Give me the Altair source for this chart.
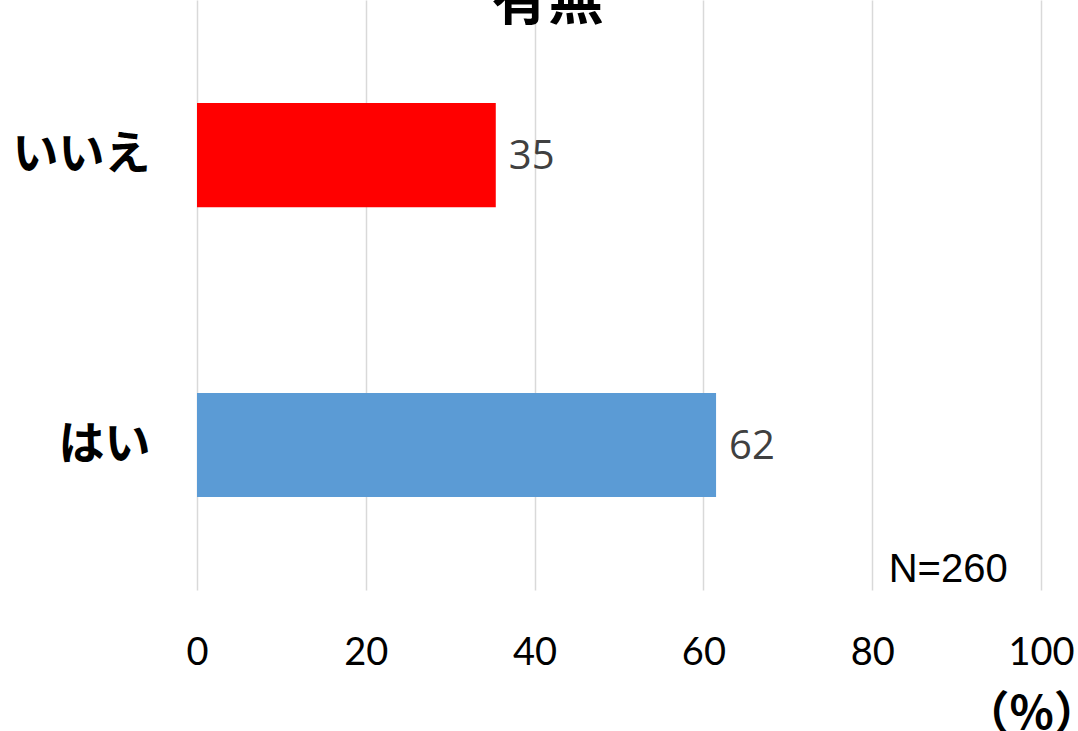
import altair as alt
import pandas as pd

categories = ["いいえ", "はい"]
values = [35.4, 61.5]
labels = ["35", "62"]
colors = ["#FF0000", "#5B9BD5"]
x_ticks = [0, 20, 40, 60, 80, 100]

df = pd.DataFrame({"cat": categories, "val": values, "lab": labels, "col": colors})

y_enc = alt.Y("cat:N", sort=categories, title=None,
              scale=alt.Scale(paddingInner=0.641, paddingOuter=0.338, align=0.526),
              axis=alt.Axis(labelFont="Noto Sans CJK JP", labelFontWeight="bold",
                            labelFontSize=46, labelColor="#000000", labelPadding=47,
                            domain=False, ticks=False, grid=False))
x_enc = alt.X("val:Q", title=None,
              scale=alt.Scale(domain=[0, 100], nice=False),
              axis=alt.Axis(values=x_ticks, labelFont="Lato", labelFontSize=38,
                            labelColor="#000000", labelPadding=44, labelFlush=False,
                            domain=False, ticks=False, grid=True,
                            gridColor="#d9d9d9", gridWidth=1.5))

bars = alt.Chart(df).mark_bar().encode(
    x=x_enc, y=y_enc, color=alt.Color("col:N", scale=None))

text = alt.Chart(df).mark_text(align="left", dx=13, dy=2, font="Open Sans", fontSize=40,
                               color="#404040").encode(
    x="val:Q", y=alt.Y("cat:N", sort=categories), text="lab:N")

notes = pd.DataFrame({"t": ["N=260"], "val": [89.0]})
n_text = alt.Chart(notes).mark_text(font="Liberation Sans", fontSize=40, color="#000000",
                                    baseline="bottom").encode(
    x="val:Q", y=alt.value(590), text="t:N")

pct = alt.Chart(pd.DataFrame({"t": ["（%）"], "val": [98.9]})).mark_text(
    font="Noto Sans CJK JP", fontSize=46, fontWeight="bold", color="#000000",
    baseline="middle").encode(x="val:Q", y=alt.value(715), text="t:N")

title = alt.Chart(pd.DataFrame({"t": ["有無"], "val": [41.55]})).mark_text(
    font="Noto Sans CJK JP", fontSize=56, fontWeight="bold", color="#000000",
    baseline="bottom").encode(x="val:Q", y=alt.value(31), text="t:N")

chart = alt.layer(bars, text, n_text, pct, title).properties(
    width=844, height=590,
    background="#ffffff",
    padding={"left": 197, "right": 37, "top": 0, "bottom": 141},
    autosize=alt.AutoSizeParams(type="none"),
).configure_view(stroke=None, strokeWidth=0).configure_axis(
    domain=False, ticks=False)

chart.save("out.html", embed_options={"renderer": "svg", "actions": False})
